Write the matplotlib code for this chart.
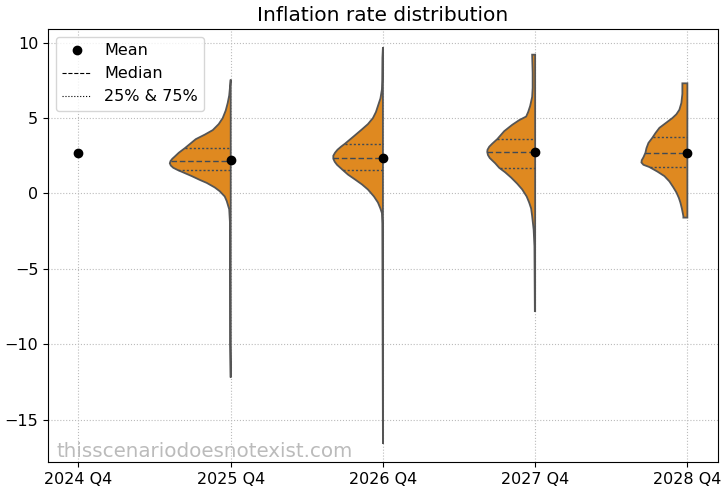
import numpy as np
import matplotlib.pyplot as plt

# =========================
# data
# =========================

labels = ["2024 Q4", "2025 Q4", "2026 Q4", "2027 Q4", "2028 Q4"]
means = [2.69, 2.23, 2.35, 2.74, 2.71]

# violin profiles (value, relative density) for 2025..2028
v25 = [7.55, 6.5, 6.0, 5.5, 5.0, 4.6, 4.2, 3.9, 3.6, 3.0, 2.7, 2.45, 2.3, 2.15, 2.0, 1.85, 1.7,
       1.55, 1.35, 1.15, 0.9, 0.7, 0.4, 0.15, -0.2, -0.5, -1.05, -2.0, -10.0, -12.2]
d25 = [0, 1.5, 3, 5, 8, 12, 18, 26, 35, 46, 52, 56, 58.5, 60.3, 61, 60, 57.5,
       53, 46, 39, 31, 24, 16, 11, 6, 4, 1.5, 0.7, 0.5, 0]

v26 = [9.7, 9.0, 7.5, 6.9, 6.3, 5.8, 5.4, 5.0, 4.6, 4.25, 3.8, 3.3, 3.1, 2.9, 2.7, 2.5,
       2.3, 2.1, 1.9, 1.6, 1.25, 0.93, 0.6, 0.26, -0.2, -0.6, -1.0, -1.3, -2.0, -16.6]
d26 = [0, 0.5, 0.7, 1, 2.5, 5, 7, 10, 15, 21, 29, 38, 42, 45.5, 48, 49.7,
       49.7, 48.3, 46, 41, 35, 28, 21, 15, 9, 5, 2.5, 1, 0.6, 0]

v27 = [9.2, 8.0, 7.0, 6.4, 5.8, 5.4, 5.1, 4.86, 4.55, 4.13, 3.6, 3.3, 3.1, 2.9, 2.75, 2.55,
       2.35, 2.0, 1.7, 1.4, 1.05, 0.65, 0.27, -0.2, -0.6, -1.0, -1.5, -2.4, -3.5, -7.8]
d27 = [3, 2.5, 2.5, 3, 5, 7, 9, 16, 23, 31, 38, 43, 46, 47.7, 48, 47.3,
       45.5, 40, 36, 30, 24, 18, 13, 8.5, 6, 4, 3, 1.5, 0.7, 0.3]

v28 = [7.3, 6.6, 6.0, 5.55, 5.25, 5.0, 4.7, 4.35, 4.0, 3.7, 3.35, 3.0, 2.7, 2.4, 2.2,
       2.05, 1.9, 1.75, 1.45, 1.15, 0.8, 0.4, 0.07, -0.3, -0.6, -1.0, -1.5, -1.6]
d28 = [5, 5, 6, 8, 11, 15, 21, 28, 32, 35, 39, 41, 42, 44, 45.7,
       46, 44, 38, 30, 23, 18, 14, 11, 8.5, 7, 5.5, 4, 4]

q25 = [1.56, 1.56, 1.68, 1.74]
q50 = [2.18, 2.38, 2.74, 2.67]
q75 = [3.03, 3.29, 3.62, 3.73]

profiles = [(v25, d25), (v26, d26), (v27, d27), (v28, d28)]

# =========================
# plot
# =========================

fill = "#df8920"
edge = "#555555"
inner = "#404a55"
scale = 0.4 / 61.0

fig = plt.figure(figsize=(7.28, 4.92), dpi=100)
ax = fig.add_axes([0.066, 0.061, 0.92, 0.88])

for i, (vals, dens) in enumerate(profiles):
    pos = i + 1
    vals = np.array(vals)
    w = np.array(dens) * scale
    xs = np.concatenate([pos - w, [pos, pos]])
    ys = np.concatenate([vals, [vals[-1], vals[0]]])
    ax.fill(xs, ys, facecolor=fill, edgecolor=edge, linewidth=1.3, zorder=2)
    order = np.argsort(vals)
    for q, ls in [(q25[i], (0, (1.5, 1.5))), (q50[i], (0, (4, 2))), (q75[i], (0, (1.5, 1.5)))]:
        wq = np.interp(q, vals[order], w[order])
        ax.plot([pos - wq, pos], [q, q], color=inner, lw=1.0, ls=ls, zorder=3)

ax.plot(range(len(labels)), means, "o", color="black", ms=6, zorder=4)

ax.set_xlim(-0.2, 4.2)
ax.set_ylim(-17.8, 10.9)
ax.set_xticks(range(len(labels)))
ax.set_xticklabels(labels)
ax.set_yticks([-15, -10, -5, 0, 5, 10])
ax.tick_params(labelsize=11.5)
ax.grid(True, ls=":", color="#bbbbbb", lw=0.8)
ax.set_axisbelow(True)
ax.set_title("Inflation rate distribution", fontsize=14.5)

h1, = ax.plot([], [], "o", color="black", ms=6)
h2, = ax.plot([], [], ls="--", color="black", lw=0.8)
h3, = ax.plot([], [], ls=":", color="black", lw=0.8)
ax.legend([h1, h2, h3], ["Mean", "Median", "25% & 75%"], loc="upper left", fontsize=11.5,
          handlelength=1.8)

ax.text(0.013, 0.012, "thisscenariodoesnotexist.com", transform=ax.transAxes,
        fontsize=14.3, color="#bbbbbb")

fig.savefig("out.png", dpi=100)
